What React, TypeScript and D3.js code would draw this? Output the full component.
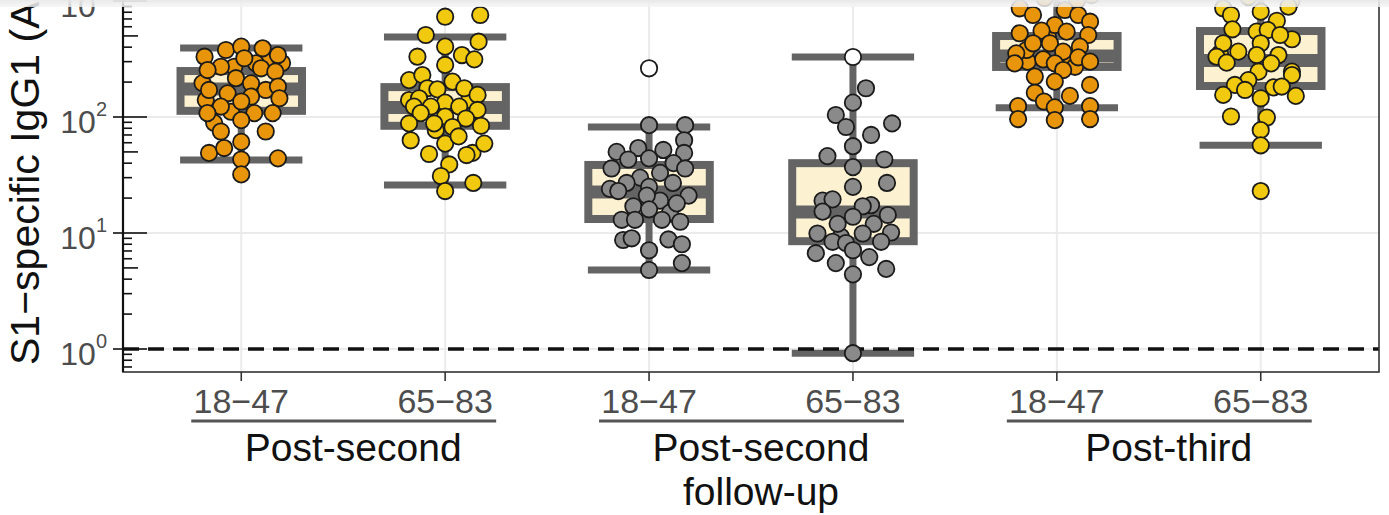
import * as d3 from 'd3';

// categories
const categories = ['PS-18', 'PS-65', 'PSF-18', 'PSF-65', 'PT-18', 'PT-65'];
const ageLabels = ['18−47', '65−83', '18−47', '65−83', '18−47', '65−83'];
const groupLabels = [['Post-second'], ['Post-second', 'follow-up'], ['Post-third']];

// IgG1 values per subject (AU/ml)
const postSecondYoung = [196, 140, 89, 310, 292, 111, 171, 290, 271,
  331, 378, 404, 391, 342, 321, 271, 254, 263, 246, 216, 195, 171, 160, 150, 183, 145, 123, 136,
  108, 108, 108, 94, 75, 75, 61, 49, 54, 43, 44, 32];
const postSecondOld = [140, 140, 77, 49,
  732, 757, 509, 446, 404, 331, 342, 314, 281, 208, 230, 202, 177, 173, 177, 155, 145, 133, 123,
  123, 123, 115, 108, 101, 97, 88, 88, 82, 84, 63, 59, 68, 59, 48, 47, 39, 31, 27, 23];
const followUpYoung = [19, 17, 15,
  85, 85, 63, 50, 54, 52, 49, 43, 44, 36, 40, 36, 30, 27, 33, 24, 23, 25, 27, 21, 21, 18, 16,
  13, 13, 13, 12.5, 8.7, 9.0, 7.1, 8.8, 8.0, 4.8, 5.5];
const followUpOld = [17.4, 9.3,
  177, 133, 104, 82, 88, 70, 56, 46, 43, 37, 27, 25, 19, 19.5, 17, 15.3, 13.8, 14.3, 12, 12,
  9.9, 9.9, 10.1, 8.4, 8.2, 8.4, 6.7, 7.1, 5.5, 6.2, 4.4, 4.9, 0.92];
const postThirdYoung = [1062, 1020, 1127, 300, 290, 492, 271, 378,
  865, 757, 836, 757, 663, 621, 527, 555, 544, 509, 432, 432, 404, 354, 366, 314, 327, 290, 290,
  300, 254, 223, 202, 189, 162, 152, 136, 124, 121, 124, 96, 94, 96];
const postThirdOld = [1082, 1000, 246, 208, 354, 246, 366,
  865, 757, 809, 893, 676, 570, 544, 562, 468, 432, 432, 509, 331, 342, 294, 342, 290, 230, 189,
  171, 145, 180, 183, 155, 152, 101, 99, 77, 57, 23];

// horizontal jitter of each dot, in category steps (same order as values)
const jitterPSY = [-0.19, -0.174, -0.133, 0.12, 0.2, -0.05, 0.12, 0.072, -0.034,
  -0.18, -0.075, 0, 0.105, 0.18, 0.015, -0.1, -0.165, 0.097, 0.167, -0.026, 0.048, -0.158, -0.067,
  0.048, 0.18, 0.187, -0.1, 0, -0.166, 0.064, 0.154, 0, -0.1, 0.12, 0, -0.158, -0.084, 0, 0.18, 0];
const jitterPSO = [-0.177, 0.118, -0.046, 0.134,
  0, 0.172, -0.095, 0.164, 0, -0.136, 0.082, 0.143, 0, -0.177, -0.112, 0.036, -0.087, -0.038,
  0.094, 0.159, -0.128, 0, -0.153, -0.07, 0.069, 0.159, -0.12, 0, 0.102, -0.177, -0.054, 0.036,
  0.176, -0.169, 0, 0.066, 0.192, -0.079, 0.105, 0.02, -0.021, 0.138, 0];
const jitterFUY = [0.054, -0.077, 0.103,
  0, 0.177, 0.172, -0.159, -0.053, 0.07, 0.172, -0.102, 0, -0.184, 0.12, 0.177, -0.044, -0.11,
  0.054, -0.192, -0.151, 0, 0.117, 0.194, -0.011, 0.136, 0, -0.134, -0.069, 0.063, 0.153, -0.127,
  -0.085, 0, 0.095, 0.161, 0, 0.161];
const jitterFUO = [0.089, -0.059,
  0.064, 0, -0.084, -0.034, 0.192, 0.089, 0, -0.125, 0.154, 0, 0.167, 0, -0.149, -0.1, 0.048,
  -0.149, 0, 0.171, -0.075, 0.102, -0.174, 0.048, 0.187, -0.1, -0.034, 0.138, -0.182, 0, -0.084,
  0.08, 0, 0.163, 0];
const jitterPTY = [-0.06, 0.1, 0.17, -0.143, 0.072, -0.044, 0.089, -0.149,
  -0.182, -0.117, 0.039, 0.105, 0.163, -0.01, -0.182, -0.075, 0.048, 0.154, -0.117, -0.034, 0.113,
  -0.199, 0.031, -0.067, 0.105, -0.207, -0.01, 0.163, 0.031, -0.108, -0.01, 0.163, -0.108, 0.064,
  -0.063, -0.19, -0.01, 0.163, -0.19, -0.01, 0.163];
const jitterPTO = [-0.06, 0.15, -0.011, -0.061, -0.2, 0.153, -0.11,
  -0.184, -0.146, 0, 0.136, 0.079, -0.139, -0.02, 0.034, 0.153, -0.184, 0, 0.095, -0.217, -0.02,
  -0.167, 0.087, 0.051, 0.153, -0.127, -0.077, 0, 0.063, 0.103, -0.184, 0.172, -0.146, 0.03, 0, 0, 0];

// box stats: [lower whisker, Q1, median, Q3, upper whisker]
const boxStats = [
  [42.6, 113, 174, 249, 393],
  [25.9, 84, 121, 181, 490],
  [4.8, 13.2, 22.6, 38.6, 82],
  [0.92, 8.5, 15.2, 40, 329],
  [120, 270, 336, 499, 2000],
  [57, 185, 307, 551, 2200],
];
// open circles
const openPoints = [[], [], [263], [329], [], []];

const values = [postSecondYoung, postSecondOld, followUpYoung, followUpOld, postThirdYoung, postThirdOld];
const jitters = [jitterPSY, jitterPSO, jitterFUY, jitterFUO, jitterPTY, jitterPTO];
const dotColors = ['#e8950c', '#f1c90f', '#8a8a8a', '#8a8a8a', '#e8950c', '#f1c90f'];
const yTicks = [1, 10, 100, 1000];

const W = 1389;
const H = 515;
const left = 123, right = 1379, bottom = 372, top = -40;
const FONT = '"Liberation Sans", Arial, Helvetica, sans-serif';

export default function App() {
  const x = d3.scalePoint<string>().domain(categories).range([left, right]).padding(0.58);
  const step = x.step();
  // 116px per decade, 10^0 at y = 349
  const y = d3.scaleLog()
    .domain([Math.pow(10, -(bottom - 349) / 116), Math.pow(10, (349 - top) / 116)])
    .range([bottom, top]);

  const boxW = step * 0.635;
  const capW = step * 0.6;
  const boxStroke = '#646464';

  const logTicks: { v: number; len: number }[] = [];
  for (let k = -1; k <= 3; k++) {
    for (let m = 1; m <= 9; m++) {
      const v = m * Math.pow(10, k);
      if (y(v) > bottom || y(v) < 0) continue;
      logTicks.push({ v, len: m === 1 ? 24 : m === 5 ? 15 : 9 });
    }
  }

  return (
    <svg width={W} height={H} style={{ position: 'absolute', left: 0, top: 0, background: '#fff' }}
      fontFamily={FONT}>
      <defs>
        <clipPath id="panel">
          <rect x={left} y={top} width={right - left} height={bottom - top} />
        </clipPath>
        <linearGradient id="fade" x1="0" y1="0" x2="0" y2="1">
          <stop offset="0" stopColor="#e9e9e9" stopOpacity={0.95} />
          <stop offset="1" stopColor="#f4f4f4" stopOpacity={0.8} />
        </linearGradient>
      </defs>

      {/* grid */}
      <g stroke="#ebebeb" strokeWidth={2}>
        {yTicks.map(t => <line key={t} x1={left} x2={right} y1={y(t)} y2={y(t)} />)}
        {categories.map(c => <line key={c} x1={x(c)} x2={x(c)} y1={top} y2={bottom} />)}
      </g>

      <g clipPath="url(#panel)">
        {/* boxes */}
        {categories.map((c, i) => {
          const [lo, q1, med, q3, hi] = boxStats[i];
          const cx = x(c)!;
          return (
            <g key={c} stroke={boxStroke} fill="none">
              <line x1={cx} x2={cx} y1={y(q3)} y2={y(hi)} strokeWidth={7} />
              <line x1={cx} x2={cx} y1={y(q1)} y2={y(lo)} strokeWidth={7} />
              <line x1={cx - capW / 2} x2={cx + capW / 2} y1={y(hi)} y2={y(hi)} strokeWidth={7} />
              <line x1={cx - capW / 2} x2={cx + capW / 2} y1={y(lo)} y2={y(lo)} strokeWidth={7} />
              <rect x={cx - boxW / 2 + 4} y={y(q3)} width={boxW - 8} height={y(q1) - y(q3)}
                fill="#fcf2d2" strokeWidth={8} />
              <line x1={cx - boxW / 2 + 4} x2={cx + boxW / 2 - 4} y1={y(med)} y2={y(med)} strokeWidth={13} />
            </g>
          );
        })}

        {/* reference line */}
        <line x1={left} x2={right} y1={y(1)} y2={y(1)} stroke="#111" strokeWidth={3.5}
          strokeDasharray="16 9" />

        {/* dots */}
        {categories.map((c, i) => (
          <g key={c} fill={dotColors[i]} stroke="#1b1b1b" strokeWidth={1.8}>
            {values[i].map((v, j) => (
              <circle key={j} cx={x(c)! + jitters[i][j] * step} cy={y(v)} r={8.2} />
            ))}
            {openPoints[i].map((v, j) => (
              <circle key={'o' + j} cx={x(c)!} cy={y(v)} r={8.2} fill="#fff" />
            ))}
          </g>
        ))}
      </g>

      {/* panel border */}
      <rect x={left} y={top} width={right - left} height={bottom - top} fill="none" stroke="#333" strokeWidth={1.6} />
      <line x1={left} x2={left} y1={0} y2={bottom} stroke="#111" strokeWidth={2.2} />

      {/* y axis ticks and log ticks */}
      <g stroke="#111" strokeWidth={1.6}>
        {yTicks.map(t => <line key={t} x1={left - 10} x2={left} y1={y(t)} y2={y(t)} />)}
        {logTicks.map(t => <line key={t.v} x1={left} x2={left + t.len} y1={y(t.v)} y2={y(t.v)} />)}
      </g>
      <g fill="#4d4d4d" textAnchor="end">
        {yTicks.map((t, i) => (
          <text key={t} x={left - 16} y={y(t) + 16} fontSize={32}>
            10<tspan fontSize={20} dy={-17}>{i}</tspan>
          </text>
        ))}
      </g>

      {/* x axis */}
      <g stroke="#333" strokeWidth={1.6}>
        {categories.map(c => <line key={c} x1={x(c)} x2={x(c)} y1={bottom} y2={bottom + 9} />)}
      </g>
      <g fill="#4d4d4d" textAnchor="middle" fontSize={34}>
        {categories.map((c, i) => <text key={c} x={x(c)} y={413}>{ageLabels[i]}</text>)}
      </g>
      {groupLabels.map((lines, g) => {
        const a = x(categories[g * 2])!;
        const b = x(categories[g * 2 + 1])!;
        return (
          <g key={g}>
            <line x1={a - 50} x2={b + 51} y1={421} y2={421} stroke="#555" strokeWidth={3} />
            {lines.map((l, k) => (
              <text key={k} x={(a + b) / 2 + 10} y={461 + k * 44} textAnchor="middle" fontSize={39} fill="#111">{l}</text>
            ))}
          </g>
        );
      })}

      {/* y title */}
      <text transform="translate(39,365) rotate(-90)" fontSize={41} fill="#111">S1−specific IgG1 (AU/ml)</text>

      {/* faded strip at the top of the crop */}
      <rect x={0} y={0} width={W} height={7} fill="url(#fade)" />
    </svg>
  );
}
